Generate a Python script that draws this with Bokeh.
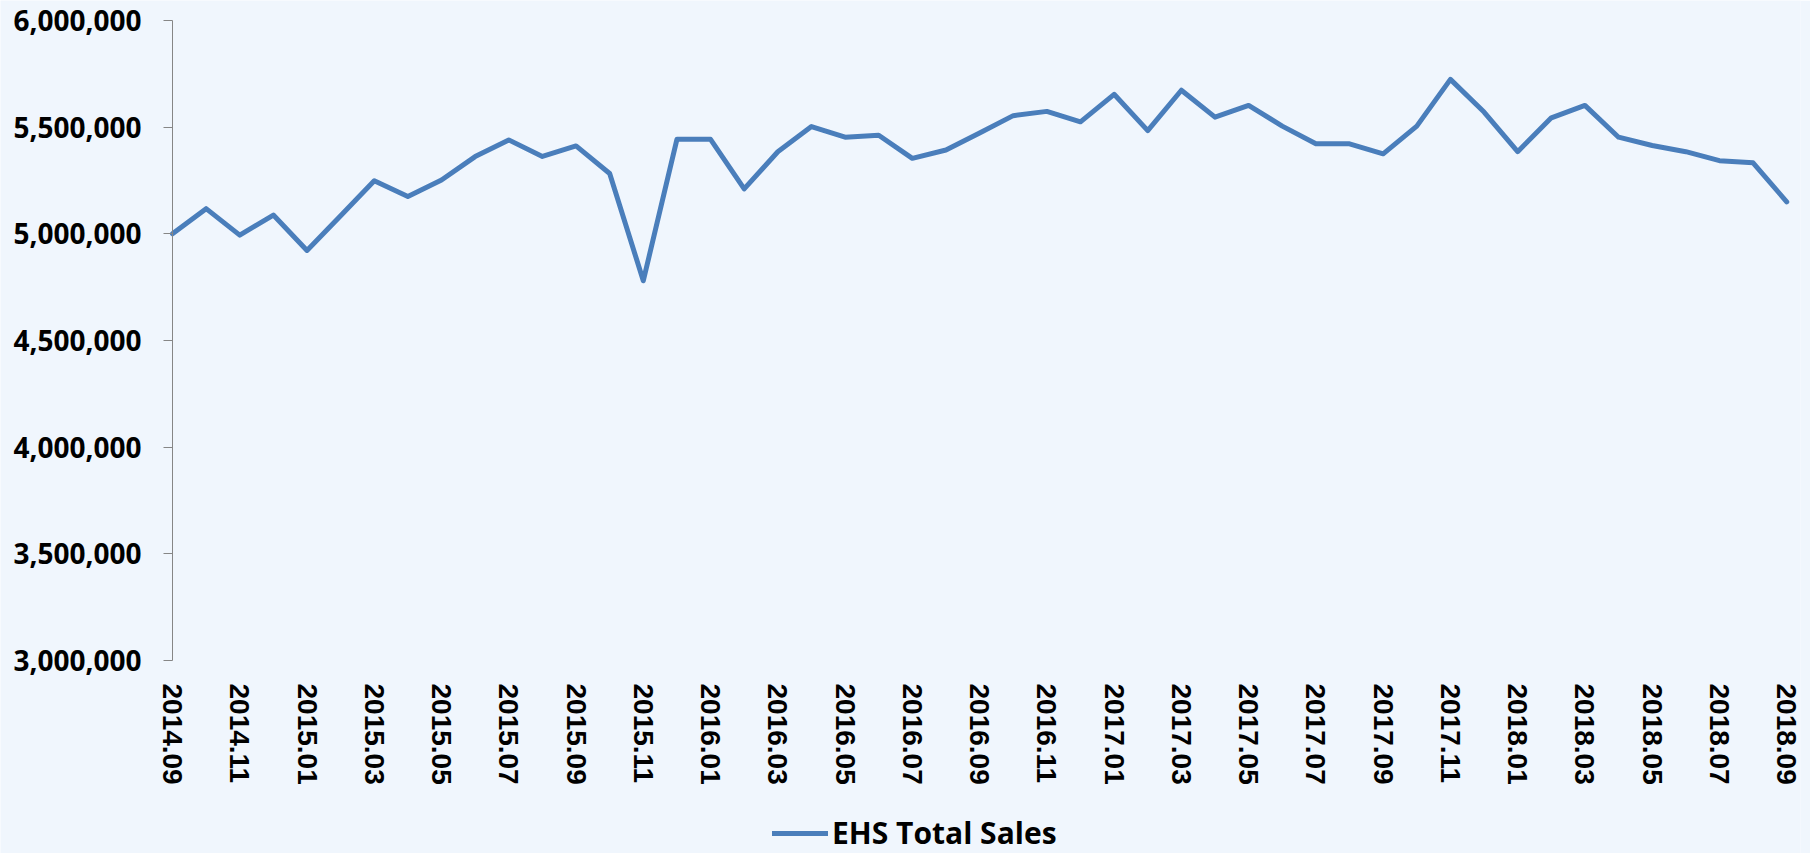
import math
from bokeh.plotting import figure
from bokeh.models import Range1d, FixedTicker, Legend, LegendItem, ColumnDataSource
from bokeh.embed import file_html
from bokeh.resources import INLINE

months = ["2014.09", "2014.10", "2014.11", "2014.12",
          "2015.01", "2015.02", "2015.03", "2015.04", "2015.05", "2015.06",
          "2015.07", "2015.08", "2015.09", "2015.10", "2015.11", "2015.12",
          "2016.01", "2016.02", "2016.03", "2016.04", "2016.05", "2016.06",
          "2016.07", "2016.08", "2016.09", "2016.10", "2016.11", "2016.12",
          "2017.01", "2017.02", "2017.03", "2017.04", "2017.05", "2017.06",
          "2017.07", "2017.08", "2017.09", "2017.10", "2017.11", "2017.12",
          "2018.01", "2018.02", "2018.03", "2018.04", "2018.05", "2018.06",
          "2018.07", "2018.08", "2018.09"]

ehs_total_sales = [5000000, 5118000, 4994000, 5088000, 4922000, 5085000,
                   5249000, 5175000, 5252000, 5362000, 5440000, 5363000,
                   5412000, 5283000, 4780000, 5443000, 5443000, 5211000,
                   5385000, 5503000, 5453000, 5462000, 5354000, 5393000,
                   5473000, 5554000, 5574000, 5525000, 5654000, 5484000,
                   5673000, 5547000, 5602000, 5505000, 5422000, 5422000,
                   5375000, 5505000, 5724000, 5571000, 5385000, 5544000,
                   5602000, 5453000, 5414000, 5385000, 5343000, 5333000,
                   5150000]

y_ticks = [3000000, 3500000, 4000000, 4500000, 5000000, 5500000, 6000000]
y_tick_labels = ["3,000,000", "3,500,000", "4,000,000", "4,500,000",
                 "5,000,000", "5,500,000", "6,000,000"]

series_name = "EHS Total Sales"
line_color = "#4a7ebb"
bg = "#f0f6fd"

y_min, y_max = y_ticks[0], y_ticks[-1]

idx = list(range(len(months)))
src = ColumnDataSource(data=dict(x=idx, y=ehs_total_sales))

# the frame covers the whole canvas; both axes are pinned inside it
p = figure(frame_width=1800, frame_height=853, output_backend="svg",
           toolbar_location=None,
           x_range=Range1d(-5.114, 48.41), y_range=Range1d(2095300, 6093750),
           min_border_left=0, min_border_right=10, min_border_top=0,
           min_border_bottom=0)
p.background_fill_color = bg
p.border_fill_color = bg
p.outline_line_color = None
p.xgrid.visible = False
p.ygrid.visible = False

r = p.line("x", "y", source=src, line_color=line_color, line_width=5,
           line_join="round", line_cap="round")

# y axis, pinned at the first month
ya = p.yaxis[0]
ya.fixed_location = idx[0]
ya.bounds = (y_min, y_max)
ya.ticker = FixedTicker(ticks=y_ticks)
ya.major_label_overrides = {t: l for t, l in zip(y_ticks, y_tick_labels)}
ya.axis_line_color = "#868686"
ya.major_tick_line_color = "#868686"
ya.major_tick_out = 9
ya.major_tick_in = 0
ya.minor_tick_line_color = None
ya.major_label_standoff = 22
ya.major_label_text_font = "Open Sans"
ya.major_label_text_font_style = "bold"
ya.major_label_text_font_size = "28px"
ya.major_label_text_color = "#000000"

# x axis, pinned at the 3,000,000 level
xa = p.xaxis[0]
xa.fixed_location = y_min
x_ticks = idx[::2]
xa.ticker = FixedTicker(ticks=x_ticks)
xa.major_label_overrides = {i: months[i] for i in x_ticks}
xa.axis_line_color = None
xa.major_tick_line_color = None
xa.minor_tick_line_color = None
xa.major_tick_out = 0
xa.major_tick_in = 0
xa.major_label_standoff = 23
xa.major_label_orientation = -math.pi / 2
xa.major_label_text_font = "Liberation Sans"
xa.major_label_text_font_style = "bold"
xa.major_label_text_font_size = "28px"
xa.major_label_text_color = "#000000"

legend = Legend(items=[LegendItem(label=series_name, renderers=[r])],
                location=(772, 0), orientation="horizontal")
legend.background_fill_alpha = 0
legend.border_line_alpha = 0
legend.padding = 0
legend.margin = 0
legend.glyph_width = 56
legend.glyph_height = 30
legend.label_height = 30
legend.label_standoff = 4
legend.label_text_font = "Open Sans"
legend.label_text_font_style = "bold"
legend.label_text_font_size = "30px"
legend.label_text_color = "#000000"
p.add_layout(legend, "center")

open("out.html", "w").write(file_html(p, INLINE))
